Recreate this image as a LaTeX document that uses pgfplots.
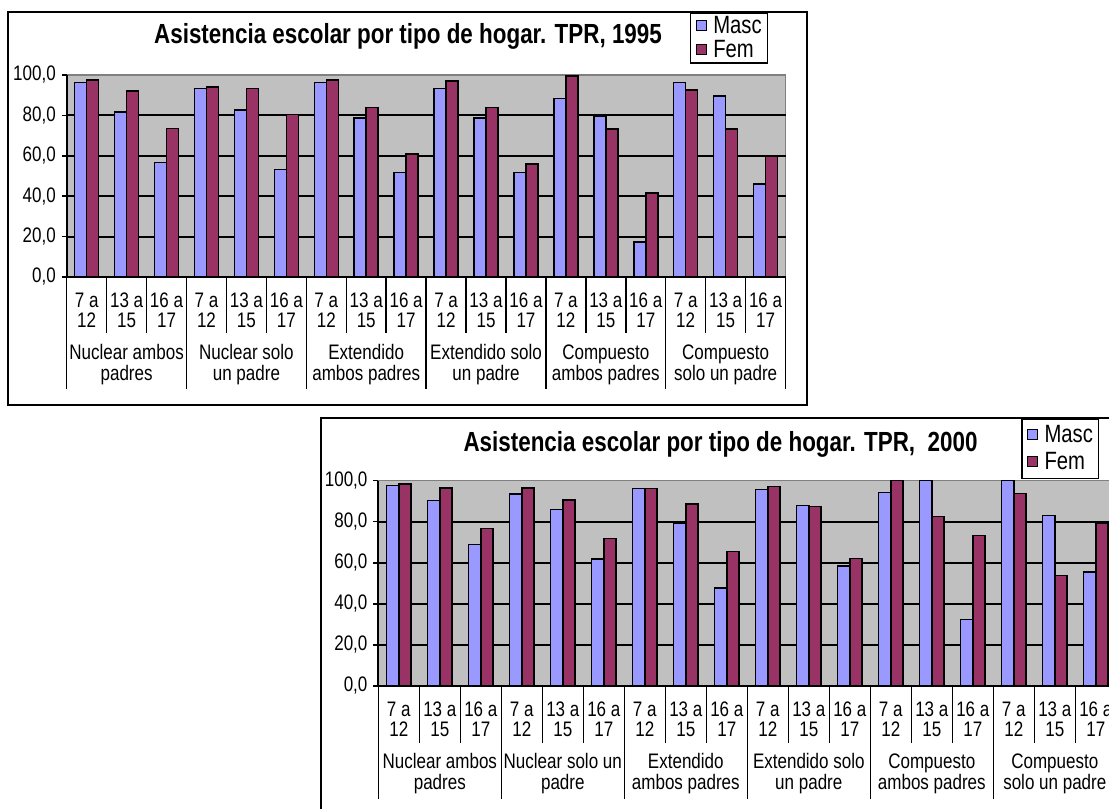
\documentclass[border=0pt]{standalone}
\usepackage{fontspec}
\setmainfont{Liberation Sans}[FakeStretch=0.81]
\usepackage{pgfplots}
\pgfplotsset{compat=1.18}
\usepackage{pgfplotstable}

\definecolor{masc}{HTML}{9999FF}
\definecolor{fem}{HTML}{993366}
\definecolor{plotbg}{HTML}{C0C0C0}
\definecolor{bordergray}{HTML}{808080}

\newcommand\lbl{\fontsize{12.6}{12}\selectfont}
\newcommand\grpfont{\fontsize{12.6}{12.6}\selectfont}
\newcommand\leg{\fontsize{15}{15}\selectfont}
\newcommand\ttl{\fontsize{16.6}{18}\selectfont\bfseries}

% 1995
\pgfplotstableread{
x m f
0 96.2 97.5
1 81.7 92.1
2 56.7 73.4
3 93.4 94.0
4 82.6 93.4
5 53.1 80.5
6 96.2 97.5
7 78.8 84.0
8 51.7 61.0
9 93.4 97.0
10 78.8 84.0
11 51.7 56.0
12 88.3 99.5
13 79.5 73.2
14 17.4 41.7
15 96.2 92.6
16 89.6 73.2
17 46.1 59.7
}\datanov

% 2000
\pgfplotstableread{
x m f
0 97.7 98.4
1 90.3 96.4
2 69.0 76.8
3 93.5 96.4
4 86.0 90.7
5 61.9 71.9
6 96.3 96.3
7 79.4 88.6
8 47.7 65.4
9 95.6 97.1
10 87.8 87.3
11 58.4 62.0
12 94.3 100.0
13 100.0 82.5
14 32.5 73.2
15 100.0 93.7
16 83.0 53.7
17 55.5 79.4
}\datamil

\tikzset{grp/.style={align=center, font=\grpfont, anchor=center}}

\pgfplotsset{
  hogar/.style={
    scale only axis,
    ybar=0pt, bar width=0.3,
    xmin=-0.5, xmax=17.5, ymin=0, ymax=100,
    ytick={0,20,40,60,80,100},
    yticklabels={{0,0},{20,0},{40,0},{60,0},{80,0},{100,0}},
    minor ytick={20,40,60,80},
    yminorgrids=true, ymajorgrids=false,
    minor grid style={black, line width=1.2pt},
    minor tick length=0pt,
    xtick={0,...,17},
    xticklabels={{7 a\\12},{13 a\\15},{16 a\\17},{7 a\\12},{13 a\\15},{16 a\\17},
                 {7 a\\12},{13 a\\15},{16 a\\17},{7 a\\12},{13 a\\15},{16 a\\17},
                 {7 a\\12},{13 a\\15},{16 a\\17},{7 a\\12},{13 a\\15},{16 a\\17}},
    major x tick style={draw=none},
    xticklabel style={align=center, anchor=center, yshift=-16.8pt, font=\lbl},
    yticklabel style={font=\lbl},
    tick align=outside, major tick length=3pt,
    y tick style={black, line width=0.9pt},
    axis x line*=bottom, axis y line*=left,
    axis line style={black, line width=1.2pt, -},
    axis background/.style={fill=plotbg, draw=bordergray, line width=0.9pt},
    clip=false,
    legend cell align=left,
    legend style={anchor=north west, draw=black, line width=0.9pt, font=\leg,
      inner xsep=3pt, nodes={inner sep=0.5pt},
      /tikz/every odd column/.append style={column sep=3.5pt}},
  },
  sq/.style={legend image code/.code={%
    \draw[fill=#1, draw=black, line width=0.6pt] (0pt,-2.4pt) rectangle (6pt,3.6pt);}},
}

\begin{document}
\begin{tikzpicture}
\fill[white] (0pt,0pt) rectangle (665.4pt,484.8pt);
\begin{scope}
\clip (0pt,0pt) rectangle (665.4pt,484.8pt);

% ---------- 1995 ----------
\draw[black, line width=1.5pt] (4.8pt,241.8pt) rectangle (484.2pt,477.6pt);
\node[anchor=base, font=\ttl] at (244.8pt,458.4pt) {Asistencia escolar por tipo de hogar. TPR, 1995};

\begin{axis}[hogar,
  at={(40.02pt,318.6pt)}, anchor=south west,
  width=431.3pt, height=121.2pt,
  legend style={at={(axis description cs:0.867,1.307)}, inner ysep=1.2pt, row sep=1.6pt},
]
\addplot[fill=masc, draw=black, line width=0.9pt, sq=masc] table[x=x, y=m] {\datanov};
\addplot[fill=fem, draw=black, line width=0.9pt, sq=fem] table[x=x, y=f] {\datanov};
\legend{Masc, Fem}
\pgfplotsinvokeforeach{-0.5,0.5,...,17.5}{\draw[black, line width=0.9pt] (axis cs:#1,0) -- ++(0pt,-33.6pt);}
\pgfplotsinvokeforeach{-0.5,2.5,...,17.5}{\draw[black, line width=0.9pt] (axis cs:#1,0) -- ++(0pt,-67.2pt);}
\node[grp, yshift=-52.8pt] at (axis cs:1,0) {Nuclear ambos\\padres};
\node[grp, yshift=-52.8pt] at (axis cs:4,0) {Nuclear solo\\un padre};
\node[grp, yshift=-52.8pt] at (axis cs:7,0) {Extendido\\ambos padres};
\node[grp, yshift=-52.8pt] at (axis cs:10,0) {Extendido solo\\un padre};
\node[grp, yshift=-52.8pt] at (axis cs:13,0) {Compuesto\\ambos padres};
\node[grp, yshift=-52.8pt] at (axis cs:16,0) {Compuesto\\solo un padre};
\end{axis}

% ---------- 2000 ----------
\fill[white] (192.6pt,0pt) rectangle (670pt,234pt);
\draw[black, line width=1.5pt] (192.6pt,-5pt) -- (192.6pt,234pt) -- (670pt,234pt);
\node[anchor=base, font=\ttl] at (432.3pt,213.6pt) {Asistencia escolar por tipo de hogar. TPR,~ 2000};

\begin{axis}[hogar,
  at={(226.98pt,73.2pt)}, anchor=south west,
  width=442.8pt, height=123.2pt,
  legend style={at={(axis description cs:0.871,1.3005)}, inner ysep=3pt, row sep=3.5pt},
]
\addplot[fill=masc, draw=black, line width=0.9pt, sq=masc] table[x=x, y=m] {\datamil};
\addplot[fill=fem, draw=black, line width=0.9pt, sq=fem] table[x=x, y=f] {\datamil};
\legend{Masc, Fem}
\pgfplotsinvokeforeach{-0.5,0.5,...,17.5}{\draw[black, line width=0.9pt] (axis cs:#1,0) -- ++(0pt,-34.2pt);}
\pgfplotsinvokeforeach{-0.5,2.5,...,17.5}{\draw[black, line width=0.9pt] (axis cs:#1,0) -- ++(0pt,-67.8pt);}
\node[grp, yshift=-52.8pt] at (axis cs:1,0) {Nuclear ambos\\padres};
\node[grp, yshift=-52.8pt] at (axis cs:4,0) {Nuclear solo un\\padre};
\node[grp, yshift=-52.8pt] at (axis cs:7,0) {Extendido\\ambos padres};
\node[grp, yshift=-52.8pt] at (axis cs:10,0) {Extendido solo\\un padre};
\node[grp, yshift=-52.8pt] at (axis cs:13,0) {Compuesto\\ambos padres};
\node[grp, yshift=-52.8pt] at (axis cs:16,0) {Compuesto\\solo un padre};
\end{axis}
\end{scope}
\pgfresetboundingbox
\path[use as bounding box] (0pt,0pt) rectangle (665.4pt,484.8pt);
\end{tikzpicture}
\end{document}
